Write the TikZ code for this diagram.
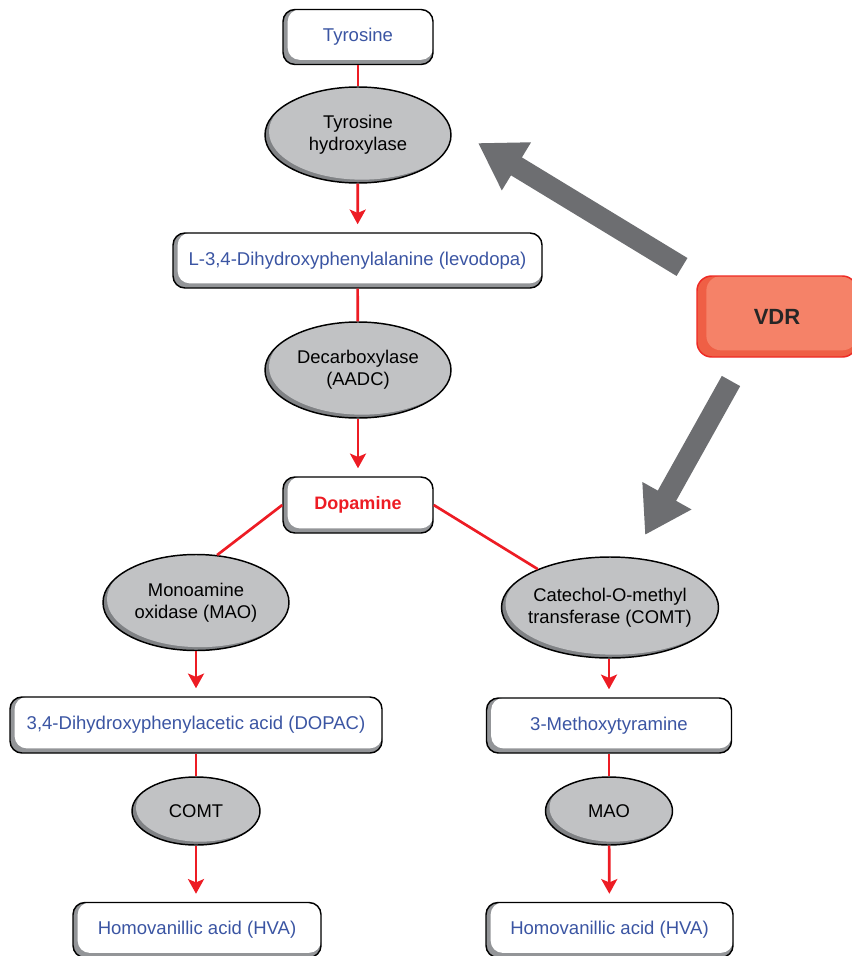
\documentclass[tikz,border=0pt]{standalone}
\usepackage{fontspec}
\setmainfont{Liberation Sans}
\usetikzlibrary{shapes.geometric}
\usetikzlibrary{arrows.meta}
\usetikzlibrary{calc}
\definecolor{boxshade}{HTML}{939598}
\definecolor{enzfill}{HTML}{C1C2C4}
\definecolor{enzshade}{HTML}{808285}
\definecolor{txtblue}{HTML}{3B55A3}
\definecolor{linkred}{HTML}{ED1C24}
\definecolor{vdrfill}{HTML}{F58268}
\definecolor{vdrdark}{HTML}{EF5F45}
\definecolor{vdrline}{HTML}{EE2A24}
\definecolor{arrowgray}{HTML}{6D6E71}

\begin{document}
\begin{tikzpicture}[x=0.75pt,y=-0.75pt,
metab/.style={rectangle,rounded corners=9pt,line width=1.1pt,draw=black,fill=boxshade,inner sep=0pt,minimum height=41.25pt,text=txtblue,font=\fontsize{13.9}{16.5}\selectfont,
 path picture={\fill[white,rounded corners=9pt] ($(path picture bounding box.south west)+(3.5pt,3.5pt)$) rectangle (path picture bounding box.north east);}},
enzyme/.style={ellipse,line width=1.1pt,draw=black,fill=enzshade,inner sep=0pt,align=center,minimum width=139.5pt,minimum height=72pt,font=\fontsize{13.8}{16.5}\selectfont,
 path picture={\fill[enzfill] let \p1=(path picture bounding box.south west),\p2=(path picture bounding box.north east) in ($(path picture bounding box.center)+(3pt,2.5pt)$) ellipse ({(\x2-\x1)/2} and {(\y2-\y1)/2});}},
vdrbox/.style={rectangle,rounded corners=11pt,line width=1.1pt,draw=vdrline,fill=vdrdark,minimum width=120pt,minimum height=60.75pt,font=\fontsize{16.5}{18}\selectfont\bfseries,text=black!85,
 path picture={\fill[vdrfill,rounded corners=11pt] ($(path picture bounding box.south west)+(7pt,5pt)$) rectangle (path picture bounding box.north east);}},
link/.style={draw=linkred,line width=2pt},
flow/.style={link,-{Stealth[length=11pt,width=12pt,inset=2.5pt]},shorten >=6pt},
vdrarrow/.style={draw=arrowgray,line width=15.75pt,-{Triangle[length=33.75pt,width=39.75pt]}}]
\useasboundingbox (0,0) rectangle (851,956);
% main pathway
\node[metab,minimum width=112.5pt] (tyr) at (358,37) {Tyrosine};
\node[enzyme] (th) at (358,135) {Tyrosine\\hydroxylase};
\node[metab,minimum width=276.75pt] (ldopa) at (357.5,260.5) {L-3,4-Dihydroxyphenylalanine (levodopa)};
\node[enzyme] (aadc) at (358,370) {Decarboxylase\\(AADC)};
\node[metab,minimum width=112.5pt,minimum height=42pt,text=linkred,font=\fontsize{13.5}{16.5}\selectfont\bfseries] (dop) at (358,505) {Dopamine};
% breakdown
\node[enzyme] (mao) at (196,602.5) {Monoamine\\oxidase (MAO)};
\node[enzyme,minimum width=162.75pt,minimum height=75.75pt,inner xsep=-12pt] (comt) at (610,607.5) {Catechol-O-methyl\\transferase (COMT)};
\node[metab,minimum width=279pt,minimum height=42pt] (dopac) at (196,725) {3,4-Dihydroxyphenylacetic acid (DOPAC)};
\node[metab,minimum width=183.75pt] (mt) at (609,725.5) {3-Methoxytyramine};
\node[enzyme,minimum width=96pt,minimum height=51pt] (comt2) at (196,811) {COMT};
\node[enzyme,minimum width=95.25pt,minimum height=51pt] (mao2) at (609,811) {MAO};
\node[metab,minimum width=186pt] (hva1) at (197,930) {Homovanillic acid (HVA)};
\node[metab,minimum width=185.25pt] (hva2) at (609.5,930) {Homovanillic acid (HVA)};
% receptor
\node[vdrbox] (vdr) at (777,316.5) {VDR};
\coordinate (thtip) at (478,143);
\coordinate (vdrtail1) at (682,267);
\coordinate (comttip) at (645,535);
\coordinate (vdrtail2) at (731,381);
\begin{scope}
 \draw[link] (tyr)--(th);
 \draw[flow] (th)--(ldopa);
 \draw[link] (ldopa)--(aadc);
 \draw[flow] (aadc)--(dop);
 \draw[link] (dop.west)--(mao.66);
 \draw[link] (dop.east)--(comt.152);
 \draw[flow] (mao)--(mao |- dopac.north);
 \draw[flow] (comt.south -| mt)--(mt);
 \draw[link] (dopac.south -| comt2)--(comt2);
 \draw[link] (mt)--(mao2);
 \draw[flow] (comt2)--(comt2 |- hva1.north);
 \draw[flow] (mao2)--(hva2);
 \draw[vdrarrow] (vdrtail1)--(thtip);
 \draw[vdrarrow] (vdrtail2)--(comttip);
\end{scope}
\end{tikzpicture}
\end{document}
